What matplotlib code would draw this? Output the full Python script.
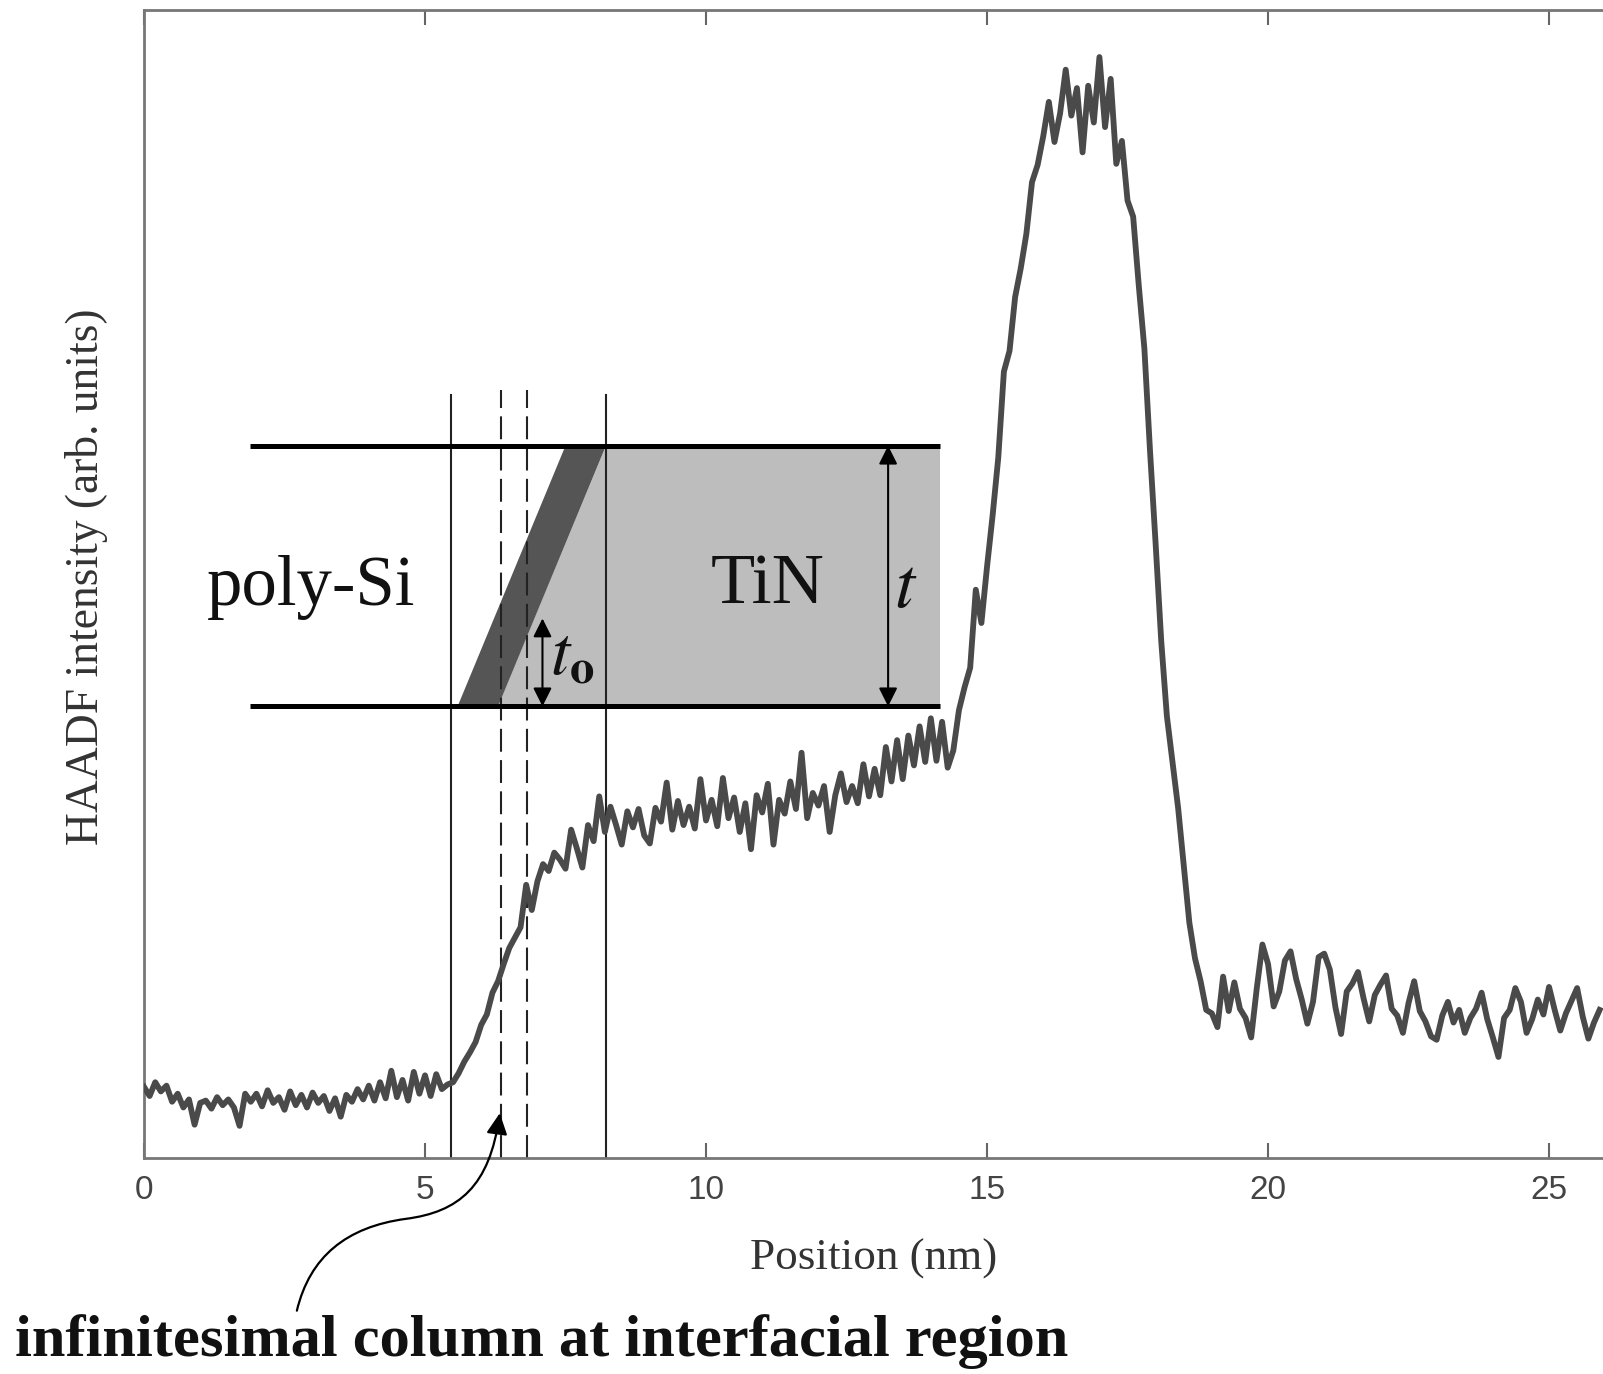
import numpy as np
import matplotlib
matplotlib.use("Agg")
import matplotlib.pyplot as plt
from matplotlib.path import Path
from matplotlib.patches import FancyArrowPatch, Polygon

plt.rcParams['mathtext.fontset'] = 'stix'

# ---- data ----
position_step = 0.1  # nm sampling of the profile
intensity = [
    # 0.0 - 0.9
    6.2, 5.4, 6.6, 5.8, 6.3, 4.9, 5.6, 4.4, 5.1, 2.9,
    # 1.0 - 1.9
    4.8, 5.0, 4.3, 5.3, 4.6, 5.1, 4.4, 2.8, 5.6, 4.9,
    # 2.0 - 2.9
    5.6, 4.5, 5.9, 4.8, 5.3, 4.2, 5.8, 4.6, 5.5, 4.4,
    # 3.0 - 3.9
    5.7, 4.8, 5.4, 4.1, 5.2, 3.6, 5.5, 4.9, 6.0, 5.1,
    # 4.0 - 4.9
    6.3, 5.0, 6.6, 5.2, 7.6, 5.3, 6.8, 5.0, 7.5, 5.6,
    # 5.0 - 5.9
    7.2, 5.4, 7.3, 6.0, 6.4, 6.6, 7.4, 8.4, 9.2, 10.1,
    # 6.0 - 6.9
    11.6, 12.5, 14.4, 15.4, 16.9, 18.3, 19.2, 20.1, 23.8, 21.6,
    # 7.0 - 7.9
    24.1, 25.6, 25.0, 26.6, 26.0, 25.2, 28.6, 27.0, 25.3, 29.0,
    # 8.0 - 8.9
    27.6, 31.5, 28.4, 30.6, 29.0, 27.3, 30.2, 28.8, 30.4, 28.1,
    # 9.0 - 9.9
    27.4, 30.5, 29.3, 32.7, 28.6, 31.1, 29.0, 30.6, 28.7, 33.0,
    # 10.0 - 10.9
    29.4, 31.2, 28.9, 33.1, 29.6, 31.4, 28.4, 30.9, 26.9, 31.6,
    # 11.0 - 11.9
    30.1, 32.6, 27.3, 31.2, 30.0, 32.8, 30.4, 35.3, 29.6, 31.8,
    # 12.0 - 12.9
    30.7, 32.4, 28.4, 31.6, 33.5, 31.0, 32.4, 30.9, 34.3, 31.5,
    # 13.0 - 13.9
    33.9, 31.6, 35.8, 32.8, 36.4, 33.0, 36.8, 34.2, 37.6, 34.5,
    # 14.0 - 14.9
    38.3, 34.6, 38.0, 34.0, 35.5, 39.0, 41.0, 42.7, 49.5, 46.6,
    # 15.0 - 15.9
    51.5, 56.0, 61.0, 68.5, 70.3, 75.0, 77.5, 80.5, 85.0, 86.5,
    # 16.0 - 16.9
    89.0, 92.0, 88.5, 91.0, 94.8, 90.8, 93.2, 87.6, 93.4, 90.2,
    # 17.0 - 17.9
    95.9, 89.8, 94.0, 86.6, 88.6, 83.4, 82.0, 76.0, 70.5, 61.6,
    # 18.0 - 18.9
    53.5, 45.0, 38.5, 34.5, 30.5, 25.5, 20.5, 17.4, 15.4, 12.9,
    # 19.0 - 19.9
    12.6, 11.4, 15.8, 12.8, 15.3, 13.0, 12.2, 10.5, 14.8, 18.6,
    # 20.0 - 20.9
    16.9, 13.2, 14.5, 17.2, 18.0, 15.6, 13.8, 11.7, 13.6, 17.5,
    # 21.0 - 21.9
    17.8, 16.4, 13.1, 10.8, 14.5, 15.2, 16.2, 13.9, 11.9, 14.2,
    # 22.0 - 22.9
    15.1, 15.9, 13.0, 12.4, 10.9, 13.5, 15.4, 12.8, 11.9, 10.6,
    # 23.0 - 23.9
    10.3, 12.4, 13.6, 11.8, 12.9, 10.9, 12.2, 13.0, 14.4, 12.1,
    # 24.0 - 24.9
    10.5, 8.8, 12.2, 12.9, 14.8, 13.6, 10.9, 12.1, 13.8, 12.5,
    # 25.0 - 25.9
    14.9, 12.9, 11.1, 12.6, 13.7, 14.8, 12.3, 10.4, 11.8, 12.9,
]
position = np.arange(len(intensity)) * position_step

x_ticks = [0, 5, 10, 15, 20, 25]
x_tick_labels = ["0", "5", "10", "15", "20", "25"]

# schematic geometry (data units)
layer_top, layer_bottom = 62.05, 39.34
layer_left, layer_right = 1.89, 14.16
solid_lines_x = [5.47, 8.22]
dashed_lines_x = [6.36, 6.82]
band_bottom = [5.58, 6.30]
band_top = [7.50, 8.22]

# ---- figure ----
fig = plt.figure(figsize=(16.03, 13.74), dpi=100)
ax = fig.add_axes([144/1603, 1 - 1158/1374, 1 - 144/1603, (1158 - 10)/1374])
ax.set_xlim(0, 25.96)
ax.set_ylim(0, 100)

line_color = '#4a4a4a'

# schematic fills
ax.add_patch(Polygon([(band_bottom[1], layer_bottom), (layer_right, layer_bottom),
                      (layer_right, layer_top), (band_top[1], layer_top)],
                     closed=True, facecolor='#bdbdbd', edgecolor='none', zorder=1))
ax.add_patch(Polygon([(band_bottom[0], layer_bottom), (band_bottom[1], layer_bottom),
                      (band_top[1], layer_top), (band_top[0], layer_top)],
                     closed=True, facecolor='#555555', edgecolor='none', zorder=1.1))

# horizontal thick lines
for yy in (layer_top, layer_bottom):
    ax.plot([layer_left, layer_right], [yy, yy], color='black', lw=3.6,
            solid_capstyle='butt', zorder=3)

# vertical lines
for xx in solid_lines_x:
    ax.plot([xx, xx], [0, 66.5], color='#222222', lw=1.5, zorder=2)
for xx in dashed_lines_x:
    ax.plot([xx, xx], [0, 66.9], color='#222222', lw=1.5,
            linestyle=(0, (11, 4)), zorder=2)

# the profile
ax.plot(position, intensity, color=line_color, lw=4.2, zorder=4,
        solid_joinstyle='round')

# double arrows
ax.annotate('', xy=(13.24, layer_top), xytext=(13.24, layer_bottom),
            arrowprops=dict(arrowstyle='<|-|>', color='black', lw=1.5,
                            mutation_scale=28, shrinkA=0, shrinkB=0), zorder=5)
ax.annotate('', xy=(7.09, 47.0), xytext=(7.09, layer_bottom),
            arrowprops=dict(arrowstyle='<|-|>', color='black', lw=1.5,
                            mutation_scale=28, shrinkA=0, shrinkB=0), zorder=5)

# labels inside
serif = ['Liberation Serif', 'DejaVu Serif']
ax.text(2.98, 49.7, 'poly-Si', fontsize=51, family=serif, ha='center', va='center',
        color='#111111', zorder=6)
ax.text(11.09, 49.9, 'TiN', fontsize=52, family=serif, ha='center', va='center',
        color='#111111', zorder=6)
ax.text(13.55, 49.7, r'$t$', fontsize=52, ha='center', va='center',
        color='#111111', zorder=6)
ax.text(7.22, 43.8, r'$t_{\mathbf{o}}$', fontsize=50, ha='left', va='center',
        color='#111111', zorder=6)

# curved arrow from the caption
verts = [(2.72, -13.3), (2.95, -8.6), (3.6, -6.0), (4.66, -5.3),
         (5.6, -4.7), (6.15, -2.5), (6.33, 3.9)]
codes = [Path.MOVETO, Path.CURVE4, Path.CURVE4, Path.CURVE4,
         Path.CURVE4, Path.CURVE4, Path.CURVE4]
arrow = FancyArrowPatch(path=Path(verts, codes), arrowstyle='-|>',
                        mutation_scale=32, color='black', lw=1.6,
                        clip_on=False, zorder=6)
ax.add_patch(arrow)

# axes styling
for side in ('left', 'top', 'bottom'):
    ax.spines[side].set_color('#777777')
    ax.spines[side].set_linewidth(2.0)
ax.spines['right'].set_visible(False)
ax.set_yticks([])
ax.set_xticks(x_ticks)
ax.set_xticklabels(x_tick_labels)
ax.tick_params(axis='x', direction='in', length=11, width=1.5, color='#666666',
               top=True, labeltop=False, pad=12, labelsize=24, labelcolor='#444444')
for lab in ax.get_xticklabels():
    lab.set_family(['Liberation Sans Narrow', 'Liberation Sans', 'DejaVu Sans'])

ax.set_xlabel('Position (nm)', fontsize=32.5, family=serif, color='#333333', labelpad=24)
ax.set_ylabel('HAADF intensity (arb. units)', fontsize=32.8, family=serif,
              color='#333333')
ax.yaxis.set_label_coords(-36/1459, 0.506)

fig.text(15/1603, 1 - 1356/1374, 'infinitesimal column at interfacial region',
         fontsize=43.5, fontweight='bold', family=serif, ha='left', va='baseline',
         color='#111111')

fig.savefig('out.png', dpi=100, facecolor='white')
